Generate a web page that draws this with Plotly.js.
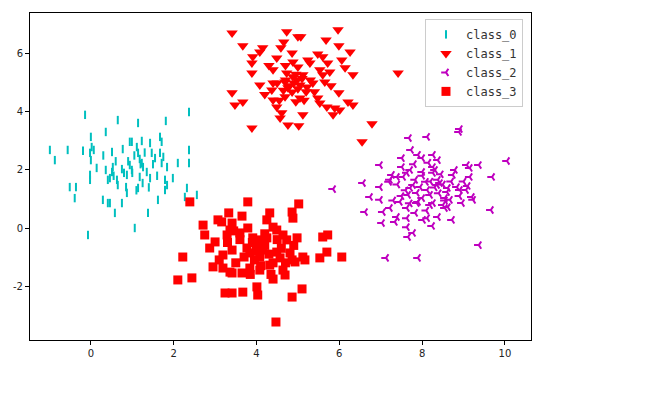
<!DOCTYPE html>
<html>
<head>
<meta charset="utf-8">
<script src="https://cdn.plot.ly/plotly-3.0.1.min.js"></script>
<style>html,body{margin:0;padding:0;background:#fff;}#chart{width:649px;height:393px;}</style>
</head>
<body>
<div id="chart"></div>
<script>
// ---- data ----
const class0_x = [-0.14,2.37,0.65,1.14,1.81,0.36,0.00,0.94,0.99,1.23,1.43,1.67,1.71,-0.99,-0.56,-0.19,0.02,0.07,-0.02,0.51,0.77,1.11,1.14,1.47,1.67,2.37,-0.87,0.00,1.18,1.23,1.55,2.10,2.37,0.14,0.36,0.53,0.51,0.75,0.94,0.99,1.26,1.35,1.71,1.84,-0.02,-0.02,0.41,0.46,0.63,0.87,1.18,1.43,1.79,1.84,1.98,-0.51,-0.36,0.65,0.85,0.87,1.14,1.79,2.32,-0.39,0.29,0.41,0.46,0.75,1.62,2.27,2.56,0.58,1.38,1.06,-0.07,1.05,1.20,1.30,0.90,1.00,1.50,0.60,0.80,1.40,1.60,0.55,1.25,0.30,1.75,1.10];
const class0_y = [3.90,4.00,3.72,3.62,3.69,3.31,3.14,2.97,2.97,3.00,2.93,3.14,2.97,2.69,2.69,2.66,2.79,2.69,2.59,2.62,2.72,2.79,2.59,2.59,2.59,2.69,2.34,2.34,2.38,2.24,2.41,2.24,2.24,2.07,2.00,2.10,1.93,2.03,2.17,2.00,2.10,1.93,2.24,2.10,1.83,1.66,1.66,1.72,1.66,1.83,1.76,1.72,1.66,1.48,1.72,1.41,1.41,1.48,1.41,1.21,1.38,1.31,1.38,1.03,0.97,0.86,0.86,0.86,0.97,1.07,1.14,0.52,0.52,0.00,-0.24,2.50,2.20,2.60,2.30,1.90,2.20,2.30,1.90,1.40,1.80,1.80,1.55,2.50,2.45,1.30];

const class1_x = [3.41,4.73,5.00,5.07,5.97,3.67,4.66,5.68,5.99,4.15,4.08,4.59,3.91,3.89,4.49,4.86,4.88,5.24,5.29,5.48,5.72,6.06,6.14,6.26,3.89,4.40,4.73,4.88,5.12,5.53,5.60,5.77,6.33,4.08,4.40,4.37,4.69,4.76,4.86,4.98,5.05,5.22,5.36,5.65,7.42,3.41,3.48,3.67,4.40,4.49,4.69,5.05,5.48,5.53,5.99,6.21,6.33,5.70,5.89,6.01,5.85,4.61,4.57,5.12,4.76,5.02,3.89,6.79,6.55,4.90,5.00,4.70,5.10,4.80,4.95,5.20,4.65,5.30,4.50,5.40,4.55,5.15,4.30,5.60,4.20,5.80,4.95,5.00,4.70];
const class1_y = [6.72,6.76,6.59,6.59,6.83,6.28,6.41,6.48,6.28,6.21,6.07,6.21,5.90,5.69,5.86,6.03,5.72,5.79,5.69,6.00,5.69,5.79,5.52,6.07,5.34,5.45,5.34,5.21,5.28,5.45,5.28,5.38,5.28,4.93,5.00,4.76,5.03,4.83,4.69,5.10,4.93,4.86,5.00,5.03,5.34,4.66,4.24,4.34,4.41,4.17,4.52,4.48,4.48,4.31,4.66,4.34,4.24,4.17,4.14,4.07,3.90,3.97,3.79,3.90,3.55,3.52,3.45,3.59,2.97,5.00,4.80,5.10,5.15,4.90,5.30,4.70,4.75,5.10,5.00,4.70,4.40,4.40,5.60,5.90,4.60,4.90,4.35,5.55,5.60];

const class2_x = [8.91,8.89,7.68,8.12,7.73,7.90,8.00,8.26,8.38,7.51,6.98,7.51,7.71,7.63,8.00,8.26,8.31,8.26,9.08,9.15,9.37,10.05,8.79,8.74,7.27,7.39,7.54,7.22,7.20,7.83,7.78,8.09,8.38,8.43,8.36,9.15,9.69,5.85,6.57,6.98,7.71,7.95,8.12,8.62,8.60,8.84,8.91,9.06,6.74,6.98,7.66,7.87,8.00,8.19,8.55,8.67,9.20,9.23,7.46,7.87,8.19,8.26,8.50,8.55,8.62,8.96,6.62,7.05,7.22,7.63,7.83,9.66,7.39,7.63,8.02,8.12,8.38,8.72,7.03,7.34,7.63,8.24,7.78,7.66,9.37,7.13,7.90,8.00,8.40,7.90,8.50,8.20,7.60,8.70,8.10,7.50,8.30,7.80,9.00,8.90,7.40,8.55,7.70,8.15,9.10,7.30,8.45];
const class2_y = [3.41,3.31,3.10,3.14,2.69,2.52,2.41,2.52,2.34,2.41,2.17,2.10,2.00,1.90,1.93,2.10,2.00,1.90,2.17,2.07,2.17,2.31,2.00,1.83,1.83,1.76,1.76,1.66,1.59,1.66,1.48,1.59,1.66,1.55,1.48,1.76,1.76,1.34,1.55,1.41,1.38,1.41,1.31,1.38,1.24,1.41,1.31,1.31,1.07,0.97,1.14,1.21,1.03,1.14,1.03,0.97,1.07,0.97,0.90,0.86,0.79,0.86,0.79,0.69,0.72,0.86,0.55,0.55,0.69,0.69,0.52,0.62,0.38,0.34,0.28,0.34,0.38,0.28,0.17,0.21,0.03,0.07,-0.17,-0.31,-0.59,-1.03,-1.03,1.80,1.20,0.90,1.50,1.60,1.30,1.60,0.60,1.10,1.40,2.20,1.60,1.10,1.50,0.95,0.85,2.25,1.45,0.95,1.85];

const class3_x = [2.39,3.79,5.02,4.86,3.33,3.65,4.32,3.07,3.16,4.25,4.88,2.71,3.41,3.36,3.79,4.40,4.49,2.75,3.29,3.60,3.91,4.08,4.01,4.25,4.64,4.73,4.98,5.60,5.72,3.00,2.87,3.41,3.19,3.77,3.84,4.15,4.08,4.49,4.57,4.81,4.86,5.12,5.17,5.53,5.70,6.06,2.22,2.95,3.19,3.36,3.41,3.65,3.84,4.08,4.32,4.64,4.93,2.10,2.44,4.40,4.69,4.01,4.03,3.24,3.41,3.67,5.10,4.86,4.47,4.00,4.20,3.95,4.30,3.70,4.40,3.90,4.10,3.60,4.60,3.50,4.20,3.30,4.70,3.85,4.50,3.10,4.35,4.90,3.45];
const class3_y = [0.90,0.90,0.83,0.55,0.52,0.41,0.52,0.28,0.21,0.28,0.34,0.10,0.17,-0.07,0.00,0.03,-0.07,-0.24,-0.24,-0.17,-0.34,-0.41,-0.59,-0.34,-0.24,-0.41,-0.34,-0.31,-0.24,-0.48,-0.69,-0.76,-0.93,-0.69,-0.86,-0.76,-1.00,-0.83,-1.03,-0.86,-1.10,-1.00,-1.10,-1.03,-0.83,-1.00,-1.00,-1.34,-1.38,-1.52,-1.55,-1.55,-1.38,-1.45,-1.28,-1.45,-1.17,-1.79,-1.72,-1.76,-1.62,-2.03,-2.31,-2.24,-2.24,-2.21,-2.10,-2.38,-3.24,-0.80,-0.60,-1.10,-0.90,-1.00,-1.20,-0.50,-1.30,-0.40,-0.70,-1.20,-0.20,-0.50,-1.20,-1.60,-0.40,-1.10,-1.60,-0.60,-0.10];

const classNames = ['class_0','class_1','class_2','class_3'];
const xTickVals = [0,2,4,6,8,10];
const xTickText = ['0','2','4','6','8','10'];
const yTickVals = [-2,0,2,4,6];
const yTickText = ['-2','0','2','4','6'];

const traces = [
  {x: class0_x, y: class0_y, name: classNames[0], type:'scatter', mode:'markers',
   marker:{symbol:'line-ns', size:6, color:'#00bfbf', line:{color:'#00bfbf', width:2}}},
  {x: class1_x, y: class1_y, name: classNames[1], type:'scatter', mode:'markers',
   marker:{symbol:'triangle-down', size:10, color:'#ff0000', line:{width:0}}},
  {x: class2_x, y: class2_y, name: classNames[2], type:'scatter', mode:'markers',
   marker:{symbol:'y-left', size:6, color:'#bf00bf', line:{color:'#bf00bf', width:2}}},
  {x: class3_x, y: class3_y, name: classNames[3], type:'scatter', mode:'markers',
   marker:{symbol:'square', size:9, color:'#ff0000', line:{width:0}}}
];

const axisFont = {family:'DejaVu Sans, sans-serif', size:10, color:'#222'};
const layout = {
  width:649, height:393,
  margin:{l:30, r:118, t:13, b:53},
  paper_bgcolor:'#fff', plot_bgcolor:'#fff',
  showlegend:true,
  xaxis:{range:[-1.47,10.63], tickvals:xTickVals, ticktext:xTickText, showgrid:false, zeroline:false,
         showline:true, mirror:true, linecolor:'#000', linewidth:1, ticks:'outside', ticklen:4,
         tickcolor:'#000', tickfont:axisFont},
  yaxis:{range:[-3.86,7.41], tickvals:yTickVals, ticktext:yTickText, showgrid:false, zeroline:false,
         showline:true, mirror:true, linecolor:'#000', linewidth:1, ticks:'outside', ticklen:4,
         tickcolor:'#000', tickfont:axisFont},
  legend:{x:0.984, y:0.982, xanchor:'right', yanchor:'top', bgcolor:'rgba(255,255,255,0.85)',
          bordercolor:'#cccccc', borderwidth:1, font:{family:'DejaVu Sans Mono, monospace', size:12, color:'#333'}}
};

Plotly.newPlot('chart', traces, layout, {staticPlot:true, displayModeBar:false});
</script>
</body>
</html>
